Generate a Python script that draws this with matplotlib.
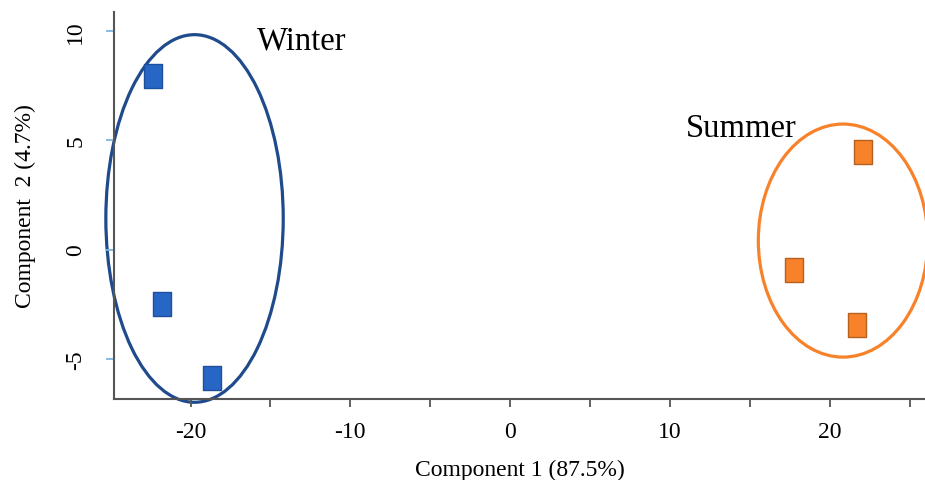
import numpy as np
import matplotlib
matplotlib.use("Agg")
import matplotlib.pyplot as plt
from matplotlib.patches import Ellipse
from matplotlib.path import Path

plt.rcParams['font.family'] = ['Liberation Serif', 'DejaVu Serif']

# PCA scores
winter_x = [-22.37, -21.80, -18.65]
winter_y = [7.92, -2.49, -5.87]
summer_x = [22.10, 17.78, 21.68]
summer_y = [4.44, -0.92, -3.45]

# group ellipses: centre x, centre y, width, height
winter_ell = (-19.75, 1.42, 11.1, 16.8)
summer_ell = (20.83, 0.41, 10.6, 10.65)

xticks = [-20, -10, 0, 10, 20]
yticks = [-5, 0, 5, 10]

fig = plt.figure(figsize=(9.25, 4.81), dpi=100)
ax = fig.add_axes([114/925, 81/481, 1 - 114/925, (400 - 12.7)/481])

# tall rectangle marker
rect = Path([(-0.37, -0.5), (0.37, -0.5), (0.37, 0.5), (-0.37, 0.5), (-0.37, -0.5)],
            [Path.MOVETO, Path.LINETO, Path.LINETO, Path.LINETO, Path.CLOSEPOLY])

ax.plot(winter_x, winter_y, ls='none', marker=rect, ms=17, mfc='#2866c6',
        mec='#1d4f9c', mew=1)
ax.plot(summer_x, summer_y, ls='none', marker=rect, ms=17, mfc='#f7822a',
        mec='#b5601c', mew=1)

cx, cy, w, h = winter_ell
ax.add_patch(Ellipse((cx, cy), w, h, fill=False, ec='#1f4a8c', lw=2.3, clip_on=False))
cx, cy, w, h = summer_ell
ax.add_patch(Ellipse((cx, cy), w, h, fill=False, ec='#f7822a', lw=2.3, clip_on=False))

ax.set_xlim(-24.79, 25.96)
ax.set_ylim(-6.83, 10.87)

ax.set_xticks(np.arange(-20, 30, 5), minor=True)
ax.set_xticks(xticks)
ax.set_xticklabels([str(t) for t in xticks])
ax.set_yticks(yticks)
ax.set_yticklabels([str(t) for t in yticks], rotation=90, va='center')

ax.tick_params(axis='x', which='both', direction='out', length=6, width=1.3,
               color='#555555', labelsize=17, pad=10)
ax.tick_params(axis='y', direction='out', length=6, width=1.3,
               color='#7fb6e0', labelsize=17, pad=14)

for s in ['top', 'right']:
    ax.spines[s].set_visible(False)
for s in ['left', 'bottom']:
    ax.spines[s].set_color('#555555')
    ax.spines[s].set_linewidth(1.5)

ax.set_xlabel('Component 1 (87.5%)', fontsize=17, labelpad=12)
ax.set_ylabel('Component  2 (4.7%)', fontsize=17, labelpad=21)

ax.text(257, 481 - 50, 'Winter', fontsize=23.5, transform=None)
ax.text(686, 481 - 137, 'Summer', fontsize=23.5, transform=None)

fig.savefig('out.png', dpi=100)
